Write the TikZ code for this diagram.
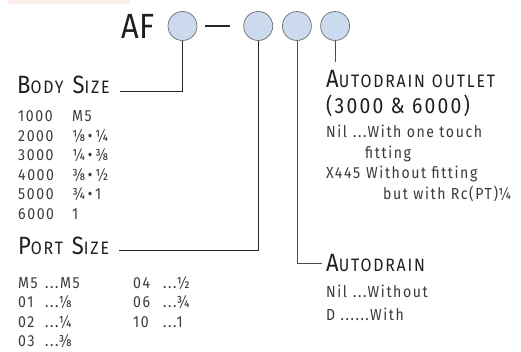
\documentclass[tikz,border=0pt]{standalone}
\usepackage{fontspec}
\setmainfont{Fira Sans}[LetterSpace=10,FakeStretch=0.88]
\usepackage{tikz}
\usetikzlibrary{positioning}
\usetikzlibrary{calc}

\definecolor{selblue}{HTML}{CCDAEE}
\definecolor{selrim}{HTML}{6E6E6E}
\definecolor{txtgray}{HTML}{3A3A3A}
\definecolor{bandpink}{HTML}{FCEEEA}

\newcommand{\fr}[2]{{\addfontfeature{Fractions=On,LetterSpace=0}#1/#2}}
\newcommand{\capword}[2]{{\fontsize{25}{25}\selectfont #1}{\fontsize{18}{18}\selectfont #2}}

\tikzset{
  sel/.style={circle, draw=selrim, fill=selblue, minimum size=29pt, inner sep=0pt, line width=0.7pt},
  lead/.style={draw=black!85, line width=0.8pt},
  hd/.style={inner sep=0pt, text=black!88, anchor=base west},
  lst/.style={inner sep=0pt, text=txtgray, anchor=north west, font=\fontsize{16}{19.5}\selectfont},
}

\begin{document}
\begin{tikzpicture}[x=1pt, y=-1pt]
	\useasboundingbox (0,0) rectangle (521,352);
	\fill[bandpink] (8,0) rectangle (130,4);

	% nodes
	\node[sel] (c1) at (182.5,26) {};
	\node[sel, right = 46pt of c1] (c2) {};
	\node[sel, right = 9pt of c2] (c3) {};
	\node[sel, right = 8.5pt of c3] (c4) {};
	\node[left = 13pt of c1, inner sep=0pt, text=black!88, font=\fontsize{35}{35}\selectfont\addfontfeature{LetterSpace=0}] (af) {AF};

	\node[hd] (bodyhd) at (17,94) {\capword{B}{ODY}\hspace{9pt}\capword{S}{IZE}};
	\node[lst, below right = 14pt and 1pt of bodyhd.base west] (bodylist) {%
		\begin{tabular}{@{}p{54pt}@{}l@{}}
			1000 & M5\\
			2000 & \fr18\,\textbullet\,\fr14\\
			3000 & \fr14\,\textbullet\,\fr38\\
			4000 & \fr38\,\textbullet\,\fr12\\
			5000 & \fr34\,\textbullet\,1\\
			6000 & 1
		\end{tabular}};

	\node[hd] (porthd) at ($(bodylist.south west)+(0pt,-29pt)$) {\capword{P}{ORT}\hspace{9pt}\capword{S}{IZE}};
	\node[lst, below right = 20pt and 0pt of porthd.base west] (portlist) {%
		\begin{tabular}{@{}p{27pt}@{}p{88pt}@{}p{30pt}@{}l@{}}
			M5 & ...M5 & 04 & ...\fr12\\
			01 & ...\fr18 & 06 & ...\fr34\\
			02 & ...\fr14 & 10 & ...1\\
			03 & ...\fr38 & &
		\end{tabular}};

	\node[hd] (outhd) at (326,88) {\capword{A}{UTODRAIN}\hspace{7pt}{\fontsize{18}{18}\selectfont OUTLET}};
	\node[hd, font=\fontsize{22}{22}\selectfont] (outsub) at ($(outhd.base west)+(0pt,-26pt)$) {(3000 \& 6000)};
	\node[lst, font=\fontsize{16}{20.5}\selectfont, below right = 9pt and 0pt of outsub.base west] (outlist) {%
		\begin{tabular}{@{}l@{}}
			\makebox[27pt][l]{Nil}...With one touch\\
			\hspace*{39pt}fitting\\
			\makebox[40pt][l]{X445}Without fitting\\
			\hspace*{57pt}but with Rc(PT)\fr14
		\end{tabular}};

	\node[hd] (draihd) at (326,271) {\capword{A}{UTODRAIN}};
	\node[lst, font=\fontsize{16}{22.5}\selectfont, below right = 11pt and 0pt of draihd.base west] (drailist) {%
		\begin{tabular}{@{}l@{}}
			\makebox[27pt][l]{Nil}...Without\\
			D ......With
		\end{tabular}};

	% edges
	\draw[line width=1.6pt, black!85, shorten <=8pt, shorten >=13pt] (c1) -- (c2);
	\draw[lead] (c1.south) |- ([shift={(10pt,3pt)}]bodyhd.base east);
	\draw[lead] (c2.south) |- ([shift={(10pt,4pt)}]porthd.base east);
	\draw[lead, draw=black!70] (c3.south) |- ([shift={(-4pt,8pt)}]draihd.base west);
	\draw[lead, draw=black!70] (c4.south) -- ([yshift=9pt]c4.south |- outhd.north);
\end{tikzpicture}
\end{document}
